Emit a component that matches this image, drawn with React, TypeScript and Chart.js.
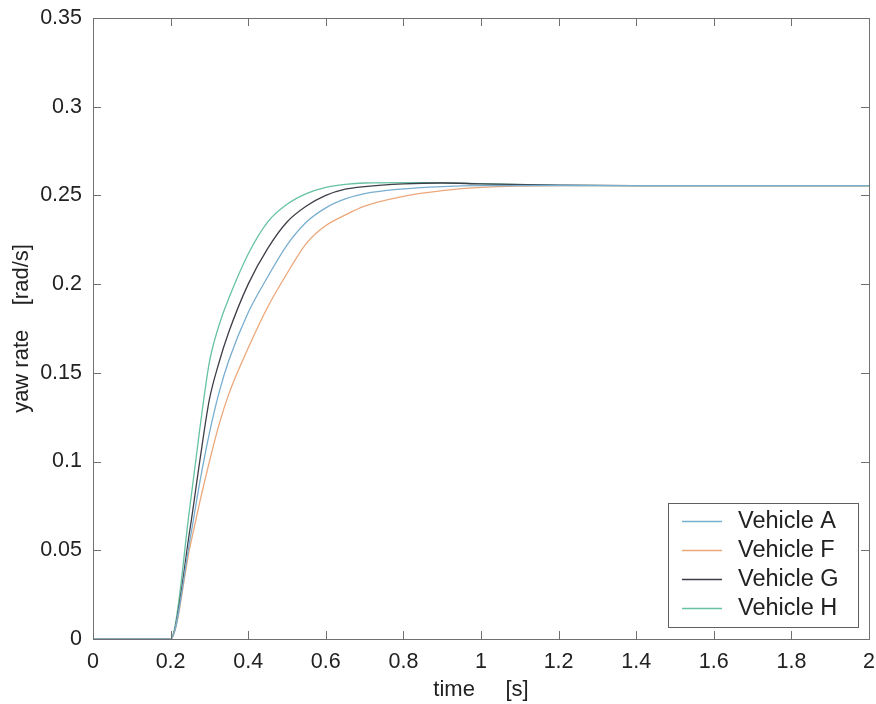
import React, { useEffect, useRef } from "react";
import { Chart, registerables } from "chart.js";

Chart.register(...registerables);

const times = [0, 0.2, 0.25, 0.275, 0.3, 0.325, 0.35, 0.4, 0.45, 0.5, 0.55, 0.6, 0.65, 0.7, 0.8, 0.9, 1.0, 1.2, 1.4, 2.0];

const vehicleA = [0, 0, 0.056, 0.088, 0.116, 0.139, 0.157, 0.184, 0.204, 0.222, 0.235, 0.243, 0.248, 0.251, 0.2537, 0.255, 0.2555, 0.2556, 0.2555, 0.2555];
const vehicleF = [0, 0, 0.052, 0.077, 0.1, 0.121, 0.138, 0.164, 0.187, 0.206, 0.223, 0.233, 0.239, 0.244, 0.2495, 0.2527, 0.2545, 0.2555, 0.2555, 0.2555];
const vehicleG = [0, 0, 0.062, 0.1, 0.135, 0.156, 0.173, 0.2, 0.22, 0.235, 0.244, 0.25, 0.2535, 0.255, 0.2565, 0.257, 0.2565, 0.2558, 0.2555, 0.2555];
const vehicleH = [0, 0, 0.075, 0.118, 0.156, 0.177, 0.192, 0.217, 0.235, 0.245, 0.251, 0.2545, 0.2562, 0.257, 0.2572, 0.2572, 0.2566, 0.2557, 0.2555, 0.2555];

const seriesNames = ["Vehicle A", "Vehicle F", "Vehicle G", "Vehicle H"];
const seriesColors = ["#78aed0", "#eca77a", "#3e3e48", "#66c2a2"];

const xTickLabels = ["0", "0.2", "0.4", "0.6", "0.8", "1", "1.2", "1.4", "1.6", "1.8", "2"];
const yTickLabels = ["0", "0.05", "0.1", "0.15", "0.2", "0.25", "0.3", "0.35"];

const FONT = "'Liberation Sans', Arial, Helvetica, sans-serif";

const framePlugin = {
  id: "frameTicks",
  afterDraw(chart: any) {
    const { ctx, chartArea, scales } = chart;
    const { left, right, top, bottom } = chartArea;
    const x = scales.x;
    const y = scales.y;
    ctx.save();
    ctx.strokeStyle = "#707070";
    ctx.lineWidth = 1;
    ctx.strokeRect(Math.round(left) + 0.5, Math.round(top) + 0.5, Math.round(right - left), Math.round(bottom - top));
    const tl = 8;
    ctx.beginPath();
    x.ticks.forEach((t: any) => {
      const px = Math.round(x.getPixelForValue(t.value)) + 0.5;
      ctx.moveTo(px, bottom);
      ctx.lineTo(px, bottom - tl);
      ctx.moveTo(px, top);
      ctx.lineTo(px, top + tl);
    });
    y.ticks.forEach((t: any) => {
      const py = Math.round(y.getPixelForValue(t.value)) + 0.5;
      ctx.moveTo(left, py);
      ctx.lineTo(left + tl, py);
      ctx.moveTo(right, py);
      ctx.lineTo(right - tl, py);
    });
    ctx.stroke();

    // legend box
    const bx = 668, by = 503, bw = 190, bh = 124;
    ctx.fillStyle = "#ffffff";
    ctx.fillRect(bx, by, bw, bh);
    ctx.strokeStyle = "#606060";
    ctx.strokeRect(bx + 0.5, by + 0.5, bw, bh);
    ctx.font = `23.5px ${FONT}`;
    ctx.textBaseline = "middle";
    ctx.textAlign = "left";
    chart.data.datasets.forEach((ds: any, i: number) => {
      const ry = by + 18 + i * 29;
      ctx.strokeStyle = ds.borderColor;
      ctx.lineWidth = 1.3;
      ctx.beginPath();
      ctx.moveTo(bx + 14, ry + 0.5);
      ctx.lineTo(bx + 54, ry + 0.5);
      ctx.stroke();
      ctx.fillStyle = "#222222";
      ctx.fillText(ds.label, bx + 70, ry + 1);
    });
    ctx.restore();
  },
};

export default function App() {
  const ref = useRef<HTMLCanvasElement | null>(null);
  useEffect(() => {
    document.body.style.margin = "0";
    const canvas = ref.current;
    if (!canvas) return;
    const all = [vehicleA, vehicleF, vehicleG, vehicleH];
    const chart = new Chart(canvas, {
      type: "line",
      data: {
        datasets: all.map((vals, i) => ({
          label: seriesNames[i],
          data: times.map((t, j) => ({ x: t, y: vals[j] })),
          borderColor: seriesColors[i],
          borderWidth: 1.3,
          pointRadius: 0,
          tension: 0.4,
          cubicInterpolationMode: "monotone" as const,
          fill: false,
        })),
      },
      options: {
        responsive: false,
        animation: false,
        layout: { padding: { left: 0, right: 7, top: 18, bottom: 0 } },
        plugins: { legend: { display: false }, tooltip: { enabled: false } },
        scales: {
          x: {
            type: "linear",
            min: 0,
            max: 2,
            afterFit: (s: any) => {
              s.height = 65;
              s.paddingLeft = 0;
              s.paddingRight = 0;
              s.paddingTop = 0;
              s.paddingBottom = 0;
            },
            afterBuildTicks: (s: any) => {
              s.ticks = xTickLabels.map((l) => ({ value: parseFloat(l) }));
            },
            ticks: {
              padding: 10,
              maxRotation: 0,
              autoSkip: false,
              color: "#222",
              font: { family: FONT, size: 21.5 },
              callback: (v: any, i: number) => xTickLabels[i],
            },
            grid: { display: false, drawTicks: false },
            border: { display: false },
            title: {
              display: true,
              text: "time     [s]",
              color: "#222",
              font: { family: FONT, size: 22 },
              padding: { top: 0, bottom: 1 },
            },
          },
          y: {
            type: "linear",
            min: 0,
            max: 0.35,
            afterFit: (s: any) => {
              s.width = 93;
              s.paddingLeft = 0;
              s.paddingRight = 0;
              s.paddingTop = 0;
              s.paddingBottom = 0;
            },
            afterBuildTicks: (s: any) => {
              s.ticks = yTickLabels.map((l) => ({ value: parseFloat(l) }));
            },
            ticks: {
              padding: 11,
              autoSkip: false,
              color: "#222",
              font: { family: FONT, size: 21.5 },
              callback: (v: any, i: number) => yTickLabels[i],
            },
            grid: { display: false, drawTicks: false },
            border: { display: false },
            title: {
              display: true,
              text: "yaw rate    [rad/s]",
              color: "#222",
              font: { family: FONT, size: 22 },
              padding: { top: 9, bottom: 0 },
            },
          },
        },
      },
      plugins: [framePlugin],
    });
    return () => chart.destroy();
  }, []);
  return <canvas ref={ref} width={876} height={704} style={{ display: "block" }} />;
}
